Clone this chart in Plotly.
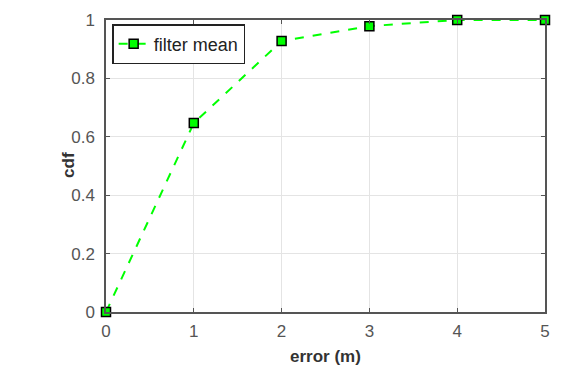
import plotly.graph_objects as go

error_m = [0, 1, 2, 3, 4, 5]
cdf_vals = [0.0, 0.647, 0.928, 0.979, 1.0, 1.0]
series_name = "filter mean"
x_ticks = [0, 1, 2, 3, 4, 5]
y_ticks = [0, 0.2, 0.4, 0.6, 0.8, 1]
x_title = "error (m)"
y_title = "cdf"

FONT = "Arial, Liberation Sans, Helvetica, sans-serif"

fig = go.Figure()
fig.add_trace(go.Scatter(
    x=error_m, y=cdf_vals, name=series_name, mode="lines+markers",
    line=dict(color="#00ff00", width=2, dash="dash"),
    marker=dict(symbol="square", size=9, color="#00ff00",
                line=dict(color="black", width=1.5)),
    cliponaxis=False,
))

axis_common = dict(
    showline=True, linecolor="#555555", linewidth=1.5, mirror="ticks",
    ticks="inside", ticklen=4, tickcolor="#555555",
    showgrid=True, gridcolor="#e4e4e4", gridwidth=1,
    zeroline=False, automargin=False,
    tickfont=dict(family=FONT, size=17, color="#555555"),
)

fig.update_layout(
    width=563, height=371,
    margin=dict(l=106, r=18, t=20, b=59),
    paper_bgcolor="white", plot_bgcolor="white",
    xaxis=dict(range=[0, 5], tickvals=x_ticks, ticklabelstandoff=3, **axis_common),
    yaxis=dict(range=[0, 1], tickvals=y_ticks, ticklabelstandoff=6, **axis_common),
    legend=dict(x=0.014, y=0.986, xanchor="left", yanchor="top",
                bgcolor="white", bordercolor="#222222", borderwidth=1.5,
                font=dict(family=FONT, size=18, color="#222222"),
                itemwidth=30, tracegroupgap=0),
    showlegend=True,
    annotations=[
        dict(text="<b>" + x_title + "</b>", xref="paper", yref="paper",
             x=0.5, y=-0.154, xanchor="center", yanchor="middle", showarrow=False,
             font=dict(family=FONT, size=17, color="#333333")),
        dict(text="<b>" + y_title + "</b>", xref="paper", yref="paper",
             x=-0.087, y=0.503, xanchor="center", yanchor="middle", showarrow=False,
             textangle=-90, font=dict(family=FONT, size=17, color="#333333")),
    ],
)

fig.write_html("out.html")
